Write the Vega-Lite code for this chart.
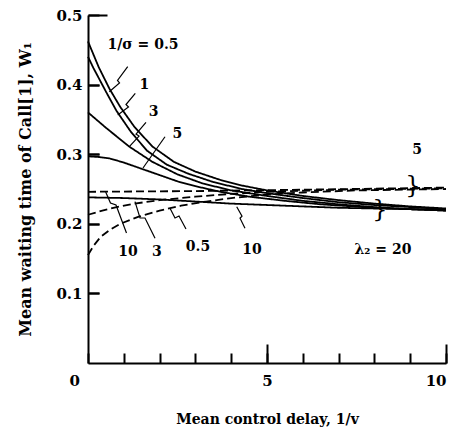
{
  "$schema": "https://vega.github.io/schema/vega-lite/v6.json",
  "width": 358,
  "height": 348,
  "autosize": "none",
  "padding": {"left": 88, "top": 15, "right": 15, "bottom": 75},
  "background": "white",
  "config": {"view": {"stroke": null}, "font": "DejaVu Serif"},
  "resolve": {"axis": {"x": "independent", "y": "independent"}},
  "datasets": {
    "curves": [
      {"series": "s0.5", "group": "l20", "x": 0, "y": 0.462},
      {"series": "s0.5", "group": "l20", "x": 0.3, "y": 0.425},
      {"series": "s0.5", "group": "l20", "x": 0.6, "y": 0.394},
      {"series": "s0.5", "group": "l20", "x": 0.9, "y": 0.368},
      {"series": "s0.5", "group": "l20", "x": 1.3, "y": 0.339},
      {"series": "s0.5", "group": "l20", "x": 1.8, "y": 0.311},
      {"series": "s0.5", "group": "l20", "x": 2.4, "y": 0.289},
      {"series": "s0.5", "group": "l20", "x": 3, "y": 0.275},
      {"series": "s0.5", "group": "l20", "x": 3.7, "y": 0.263},
      {"series": "s0.5", "group": "l20", "x": 4.3, "y": 0.255},
      {"series": "s0.5", "group": "l20", "x": 5, "y": 0.248},
      {"series": "s0.5", "group": "l20", "x": 6, "y": 0.24},
      {"series": "s0.5", "group": "l20", "x": 7, "y": 0.234},
      {"series": "s0.5", "group": "l20", "x": 8, "y": 0.229},
      {"series": "s0.5", "group": "l20", "x": 9, "y": 0.225},
      {"series": "s0.5", "group": "l20", "x": 10, "y": 0.222},
      {"series": "s1", "group": "l20", "x": 0, "y": 0.44},
      {"series": "s1", "group": "l20", "x": 0.15, "y": 0.424},
      {"series": "s1", "group": "l20", "x": 0.5, "y": 0.39},
      {"series": "s1", "group": "l20", "x": 0.8, "y": 0.362},
      {"series": "s1", "group": "l20", "x": 1.2, "y": 0.332},
      {"series": "s1", "group": "l20", "x": 1.65, "y": 0.305},
      {"series": "s1", "group": "l20", "x": 2.2, "y": 0.285},
      {"series": "s1", "group": "l20", "x": 2.8, "y": 0.272},
      {"series": "s1", "group": "l20", "x": 3.5, "y": 0.26},
      {"series": "s1", "group": "l20", "x": 4.3, "y": 0.25},
      {"series": "s1", "group": "l20", "x": 5, "y": 0.244},
      {"series": "s1", "group": "l20", "x": 6, "y": 0.237},
      {"series": "s1", "group": "l20", "x": 7, "y": 0.231},
      {"series": "s1", "group": "l20", "x": 8, "y": 0.227},
      {"series": "s1", "group": "l20", "x": 9, "y": 0.224},
      {"series": "s1", "group": "l20", "x": 10, "y": 0.221},
      {"series": "s3", "group": "l20", "x": 0, "y": 0.36},
      {"series": "s3", "group": "l20", "x": 0.5, "y": 0.338},
      {"series": "s3", "group": "l20", "x": 1.15, "y": 0.311},
      {"series": "s3", "group": "l20", "x": 1.8, "y": 0.289},
      {"series": "s3", "group": "l20", "x": 2.5, "y": 0.271},
      {"series": "s3", "group": "l20", "x": 3.2, "y": 0.258},
      {"series": "s3", "group": "l20", "x": 4, "y": 0.248},
      {"series": "s3", "group": "l20", "x": 5, "y": 0.24},
      {"series": "s3", "group": "l20", "x": 6, "y": 0.233},
      {"series": "s3", "group": "l20", "x": 7, "y": 0.228},
      {"series": "s3", "group": "l20", "x": 8, "y": 0.224},
      {"series": "s3", "group": "l20", "x": 9, "y": 0.221},
      {"series": "s3", "group": "l20", "x": 10, "y": 0.219},
      {"series": "s5", "group": "l20", "x": 0, "y": 0.297},
      {"series": "s5", "group": "l20", "x": 0.3, "y": 0.296},
      {"series": "s5", "group": "l20", "x": 0.6, "y": 0.294},
      {"series": "s5", "group": "l20", "x": 1, "y": 0.288},
      {"series": "s5", "group": "l20", "x": 1.5, "y": 0.279},
      {"series": "s5", "group": "l20", "x": 2, "y": 0.27},
      {"series": "s5", "group": "l20", "x": 2.5, "y": 0.261},
      {"series": "s5", "group": "l20", "x": 3, "y": 0.254},
      {"series": "s5", "group": "l20", "x": 3.7, "y": 0.246},
      {"series": "s5", "group": "l20", "x": 4.5, "y": 0.239},
      {"series": "s5", "group": "l20", "x": 5.5, "y": 0.233},
      {"series": "s5", "group": "l20", "x": 6.5, "y": 0.228},
      {"series": "s5", "group": "l20", "x": 8, "y": 0.223},
      {"series": "s5", "group": "l20", "x": 9, "y": 0.221},
      {"series": "s5", "group": "l20", "x": 10, "y": 0.219},
      {"series": "s10", "group": "l20", "x": 0, "y": 0.238},
      {"series": "s10", "group": "l20", "x": 1, "y": 0.237},
      {"series": "s10", "group": "l20", "x": 2, "y": 0.235},
      {"series": "s10", "group": "l20", "x": 3, "y": 0.232},
      {"series": "s10", "group": "l20", "x": 4, "y": 0.229},
      {"series": "s10", "group": "l20", "x": 5, "y": 0.227},
      {"series": "s10", "group": "l20", "x": 6, "y": 0.225},
      {"series": "s10", "group": "l20", "x": 7, "y": 0.223},
      {"series": "s10", "group": "l20", "x": 8, "y": 0.222},
      {"series": "s10", "group": "l20", "x": 9, "y": 0.221},
      {"series": "s10", "group": "l20", "x": 10, "y": 0.22},
      {"series": "d10", "group": "l5", "x": 0, "y": 0.246},
      {"series": "d10", "group": "l5", "x": 3, "y": 0.247},
      {"series": "d10", "group": "l5", "x": 6, "y": 0.249},
      {"series": "d10", "group": "l5", "x": 10, "y": 0.252},
      {"series": "d3", "group": "l5", "x": 0, "y": 0.213},
      {"series": "d3", "group": "l5", "x": 0.4, "y": 0.219},
      {"series": "d3", "group": "l5", "x": 0.8, "y": 0.224},
      {"series": "d3", "group": "l5", "x": 1.3, "y": 0.229},
      {"series": "d3", "group": "l5", "x": 2, "y": 0.234},
      {"series": "d3", "group": "l5", "x": 3, "y": 0.239},
      {"series": "d3", "group": "l5", "x": 4, "y": 0.243},
      {"series": "d3", "group": "l5", "x": 5, "y": 0.246},
      {"series": "d3", "group": "l5", "x": 7, "y": 0.249},
      {"series": "d3", "group": "l5", "x": 10, "y": 0.251},
      {"series": "d0.5", "group": "l5", "x": 0, "y": 0.155},
      {"series": "d0.5", "group": "l5", "x": 0.15, "y": 0.168},
      {"series": "d0.5", "group": "l5", "x": 0.35, "y": 0.181},
      {"series": "d0.5", "group": "l5", "x": 0.6, "y": 0.191},
      {"series": "d0.5", "group": "l5", "x": 0.9, "y": 0.2},
      {"series": "d0.5", "group": "l5", "x": 1.4, "y": 0.21},
      {"series": "d0.5", "group": "l5", "x": 2, "y": 0.219},
      {"series": "d0.5", "group": "l5", "x": 2.6, "y": 0.226},
      {"series": "d0.5", "group": "l5", "x": 3.3, "y": 0.232},
      {"series": "d0.5", "group": "l5", "x": 4, "y": 0.237},
      {"series": "d0.5", "group": "l5", "x": 5, "y": 0.242},
      {"series": "d0.5", "group": "l5", "x": 6, "y": 0.245},
      {"series": "d0.5", "group": "l5", "x": 7.5, "y": 0.248},
      {"series": "d0.5", "group": "l5", "x": 10, "y": 0.25}
    ],
    "leaders": [
      {"id": "a", "k": 0, "x": 1.109, "y": 0.4257},
      {"id": "a", "k": 1, "x": 0.824, "y": 0.4059},
      {"id": "a", "k": 2, "x": 0.88, "y": 0.4023},
      {"id": "a", "k": 3, "x": 0.595, "y": 0.3898},
      {"id": "b", "k": 0, "x": 1.321, "y": 0.3875},
      {"id": "b", "k": 1, "x": 1.061, "y": 0.3714},
      {"id": "b", "k": 2, "x": 1.131, "y": 0.3678},
      {"id": "b", "k": 3, "x": 0.83, "y": 0.3563},
      {"id": "c", "k": 0, "x": 1.62, "y": 0.3458},
      {"id": "c", "k": 1, "x": 1.341, "y": 0.329},
      {"id": "c", "k": 2, "x": 1.425, "y": 0.3261},
      {"id": "c", "k": 3, "x": 1.154, "y": 0.3108},
      {"id": "d", "k": 0, "x": 2.151, "y": 0.3251},
      {"id": "d", "k": 1, "x": 1.536, "y": 0.2802},
      {"id": "e", "k": 0, "x": 0.494, "y": 0.2457},
      {"id": "e", "k": 1, "x": 0.628, "y": 0.2299},
      {"id": "e", "k": 2, "x": 0.782, "y": 0.227},
      {"id": "e", "k": 3, "x": 1.075, "y": 0.1868},
      {"id": "f", "k": 0, "x": 1.313, "y": 0.2318},
      {"id": "f", "k": 1, "x": 1.453, "y": 0.2083},
      {"id": "f", "k": 2, "x": 1.592, "y": 0.2083},
      {"id": "f", "k": 3, "x": 1.872, "y": 0.1792},
      {"id": "g", "k": 0, "x": 2.291, "y": 0.2223},
      {"id": "g", "k": 1, "x": 2.43, "y": 0.2083},
      {"id": "g", "k": 2, "x": 2.542, "y": 0.2112},
      {"id": "g", "k": 3, "x": 2.737, "y": 0.1925},
      {"id": "h", "k": 0, "x": 4.154, "y": 0.2246},
      {"id": "h", "k": 1, "x": 4.302, "y": 0.2109},
      {"id": "h", "k": 2, "x": 4.246, "y": 0.208},
      {"id": "h", "k": 3, "x": 4.385, "y": 0.1935}
    ],
    "labels": [
      {"x": 1.536, "y": 0.4569, "text": "1/σ = 0.5"},
      {"x": 1.573, "y": 0.3994, "text": "1"},
      {"x": 1.835, "y": 0.3602, "text": "3"},
      {"x": 2.494, "y": 0.3286, "text": "5"},
      {"x": 1.117, "y": 0.1595, "text": "10"},
      {"x": 1.927, "y": 0.1595, "text": "3"},
      {"x": 3.073, "y": 0.1667, "text": "0.5"},
      {"x": 4.581, "y": 0.1624, "text": "10"},
      {"x": 9.19, "y": 0.306, "text": "5"},
      {"x": 8.24, "y": 0.1624, "text": "λ₂ = 20"}
    ],
    "braces": [
      {"x": 9.078, "y": 0.2543, "text": "}"},
      {"x": 8.156, "y": 0.2198, "text": "}"}
    ]
  },
  "layer": [
    {
      "data": {"name": "curves"},
      "mark": {"type": "line", "color": "black", "strokeWidth": 1.8},
      "encoding": {
        "x": {
          "field": "x", "type": "quantitative",
          "scale": {"domain": [0, 10], "nice": false},
          "axis": {
            "orient": "bottom",
            "values": [0, 1, 2, 3, 4, 5, 6, 7, 8, 9, 10],
            "grid": false,
            "labelOverlap": false,
            "domainColor": "black", "domainWidth": 2,
            "tickColor": "black", "tickWidth": 2,
            "tickSize": -10,
            "labelExpr": "datum.value == 0 || datum.value == 5 || datum.value == 10 ? datum.label : ''",
            "labelOffset": {"condition": {"test": "datum.value == 0", "value": -19}, "value": 0},
            "labelPadding": 20,
            "labelFont": "DejaVu Serif", "labelFontWeight": "bold", "labelFontSize": 15, "labelColor": "black",
            "title": "Mean control delay, 1/v",
            "titleFont": "DejaVu Serif", "titleFontWeight": "bold", "titleFontSize": 14, "titleColor": "black",
            "titlePadding": 24
          }
        },
        "y": {
          "field": "y", "type": "quantitative",
          "scale": {"domain": [0, 0.5], "nice": false},
          "axis": {
            "orient": "left",
            "values": [0.1, 0.2, 0.3, 0.4, 0.5],
            "format": ".1f",
            "grid": false,
            "labelOverlap": false,
            "domainColor": "black", "domainWidth": 2,
            "tickColor": "black", "tickWidth": 2,
            "tickSize": -11,
            "labelPadding": 17,
            "labelFont": "DejaVu Serif", "labelFontWeight": "bold", "labelFontSize": 15, "labelColor": "black",
            "title": "Mean waiting time of Call[1], W₁",
            "titleFont": "DejaVu Serif", "titleFontWeight": "bold", "titleFontSize": 16, "titleColor": "black",
            "titlePadding": 22
          }
        },
        "detail": {"field": "series"},
        "strokeDash": {
          "field": "group", "type": "nominal",
          "scale": {"domain": ["l20", "l5"], "range": [[1, 0], [8, 4]]},
          "legend": null
        }
      }
    },
    {
      "data": {"name": "leaders"},
      "mark": {"type": "line", "color": "black", "strokeWidth": 1.2},
      "encoding": {
        "x": {"field": "x", "type": "quantitative", "axis": null},
        "y": {"field": "y", "type": "quantitative", "axis": null},
        "detail": {"field": "id"},
        "order": {"field": "k", "type": "quantitative"}
      }
    },
    {
      "data": {"name": "labels"},
      "mark": {"type": "text", "font": "DejaVu Serif", "fontWeight": "bold", "fontSize": 14, "color": "black", "align": "center", "baseline": "middle"},
      "encoding": {
        "x": {"field": "x", "type": "quantitative", "axis": null},
        "y": {
          "field": "y", "type": "quantitative",
          "axis": {"orient": "left", "values": [0.1, 0.2, 0.3, 0.4], "grid": false, "domain": false, "labels": false, "title": null, "tickColor": "black", "tickWidth": 2, "tickSize": -11}
        },
        "text": {"field": "text"}
      }
    },
    {
      "data": {"name": "braces"},
      "mark": {"type": "text", "font": "DejaVu Serif", "fontSize": 24, "color": "black", "align": "center", "baseline": "middle"},
      "encoding": {
        "x": {
          "field": "x", "type": "quantitative",
          "axis": {"orient": "bottom", "values": [5, 10], "grid": false, "domain": false, "labels": false, "title": null, "tickColor": "black", "tickWidth": 2, "tickSize": -19}
        },
        "y": {
          "field": "y", "type": "quantitative",
          "axis": {"orient": "left", "values": [0.5], "grid": false, "domain": false, "labels": false, "title": null, "tickColor": "black", "tickWidth": 2, "tickSize": -19}
        },
        "text": {"field": "text"}
      }
    }
  ]
}
